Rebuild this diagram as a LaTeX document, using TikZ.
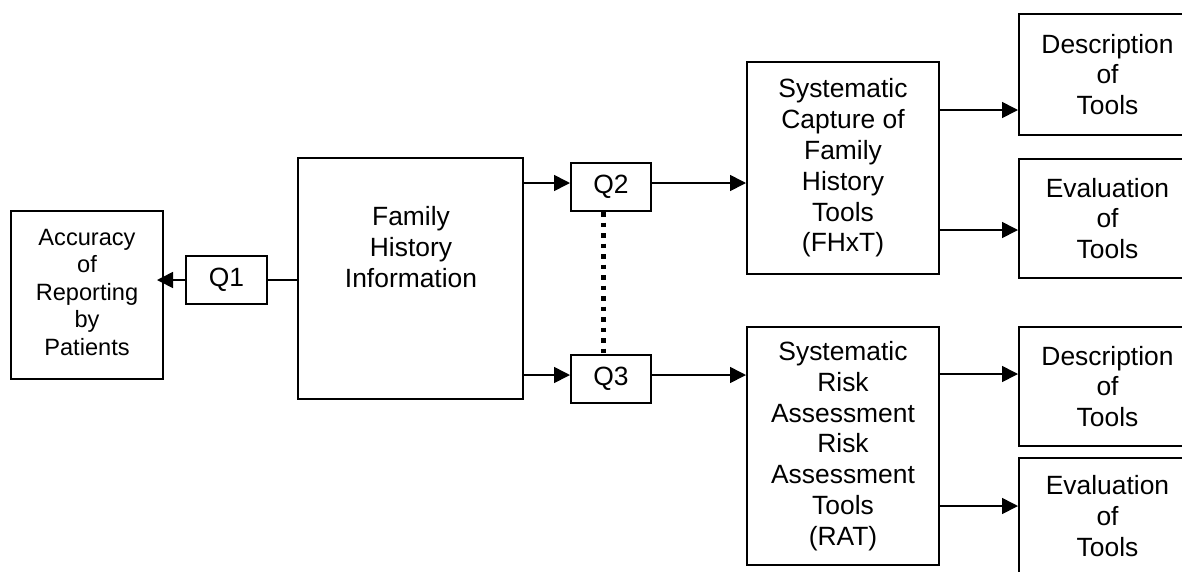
\documentclass[tikz,border=0pt]{standalone}
\usepackage{fontspec}
\setmainfont{Liberation Sans}
\usetikzlibrary{arrows.meta}
\begin{document}
\begin{tikzpicture}[x=1pt,y=-1pt,
  box/.style={draw, line width=2pt, inner sep=0pt, minimum width=#1},
  box/.default=192,
  txt/.style={align=center, font=\fontsize{26.4}{30.8}\selectfont},
  smalltxt/.style={align=center, font=\fontsize{23.6}{27.5}\selectfont},
  conn/.style={line width=1.6pt},
  arr/.style={conn, -{Triangle[length=16pt,width=16pt]}},
  dots/.style={line width=5pt, dash pattern=on 4.5pt off 6pt}
]
\useasboundingbox (0,0) rectangle (1182,571);
\clip (0,0) rectangle (1182,571);

% left column
\node[box=152, minimum height=168] (acc) at (87,295) {};
\node[smalltxt] (acctxt) at (87,292) {Accuracy\\of\\Reporting\\by\\Patients};
\node[box=81, minimum height=48, txt] (q1) at (226.5,280) {Q1};
\node[box=225, minimum height=241] (fhi) at (410.5,278.5) {};
\node[txt] (fhitxt) at (411,247) {Family\\History\\Information};

% question boxes
\node[box=80, minimum height=48, txt] (q2) at (611,187) {Q2};
\node[box=80, minimum height=48, txt] (q3) at (611,379) {Q3};

% tool boxes
\node[box=192, minimum height=212, txt] (sc) at (843,168)
  {Systematic\\Capture of\\Family\\History\\Tools\\(FHxT)};
\node[box=192, minimum height=238, txt] (ra) at (843,446)
  {Systematic\\Risk\\Assessment\\Risk\\Assessment\\Tools\\(RAT)};

% right column
\node[box=177, minimum height=121, txt] (d1) at (1107.5,74.5) {Description\\of\\Tools};
\node[box=177, minimum height=119, txt] (e1) at (1107.5,218.5) {Evaluation\\of\\Tools};
\node[box=177, minimum height=119, txt] (d2) at (1107.5,386.5) {Description\\of\\Tools};
\node[box=177, minimum height=116, txt] (e2) at (1107.5,516) {Evaluation\\of\\Tools};

% connectors
\draw[conn] (fhi.west |- q1.east) -- (q1.east);
\draw[arr, shorten >=-7pt] (q1.west) -- (acc.east |- q1.west);
\draw[arr] (fhi.east |- 0,183) -- (q2.west |- 0,183);
\draw[arr] (fhi.east |- 0,375) -- (q3.west |- 0,375);
\draw[arr] (q2.east |- 0,183) -- (sc.west |- 0,183);
\draw[arr] (q3.east |- 0,375) -- (ra.west |- 0,375);
\draw[dots] ([xshift=-8pt]q2.south) -- ([xshift=-8pt]q3.north);
\draw[arr] (sc.east |- 0,110) -- (d1.west |- 0,110);
\draw[arr] (sc.east |- 0,230) -- (e1.west |- 0,230);
\draw[arr] (ra.east |- 0,374) -- (d2.west |- 0,374);
\draw[arr] (ra.east |- 0,506) -- (e2.west |- 0,506);
\end{tikzpicture}
\end{document}
